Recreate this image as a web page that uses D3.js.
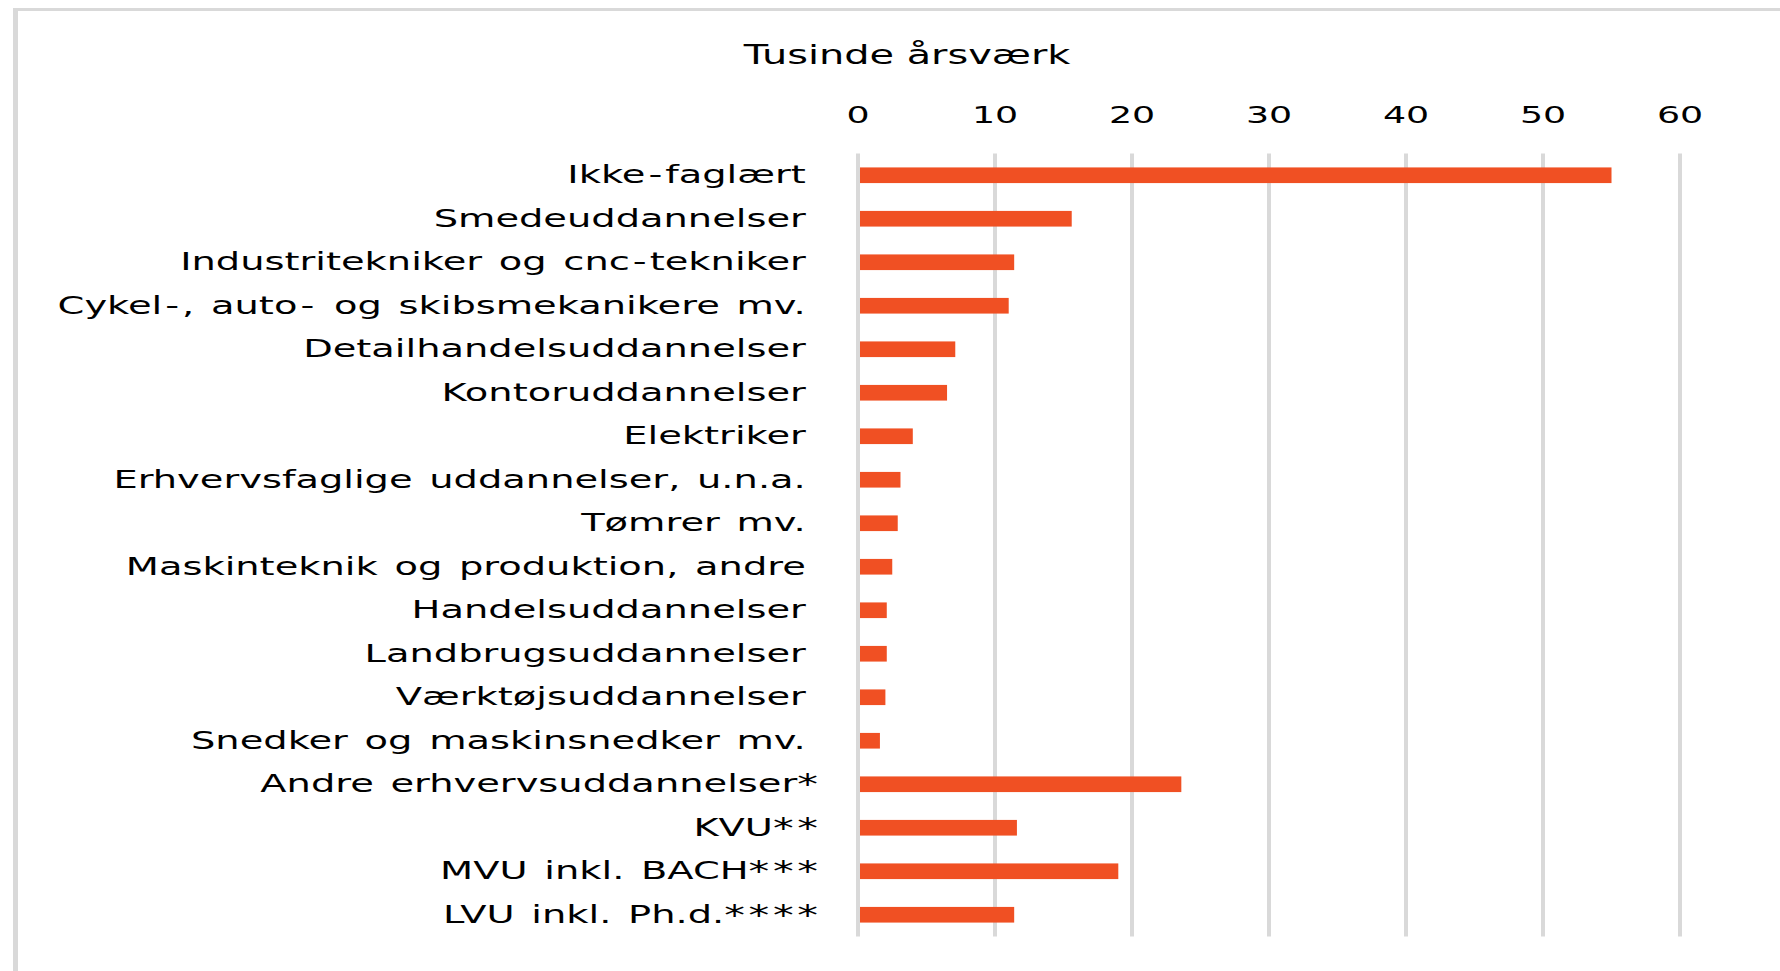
<!DOCTYPE html>
<html>
<head>
<meta charset="utf-8">
<script src="https://cdn.jsdelivr.net/npm/d3@7/dist/d3.min.js"></script>
<style>
  html, body { margin: 0; padding: 0; background: #fff; }
  svg { display: block; }
  text { font-family: "DejaVu Sans", Verdana, sans-serif; fill: #000; }
</style>
</head>
<body>
<svg id="chart" width="1780" height="971"></svg>
<script>
// ---- Data ----
const categories = [
  "Ikke-faglært",
  "Smedeuddannelser",
  "Industritekniker og cnc-tekniker",
  "Cykel-, auto- og skibsmekanikere mv.",
  "Detailhandelsuddannelser",
  "Kontoruddannelser",
  "Elektriker",
  "Erhvervsfaglige uddannelser, u.n.a.",
  "Tømrer mv.",
  "Maskinteknik og produktion, andre",
  "Handelsuddannelser",
  "Landbrugsuddannelser",
  "Værktøjsuddannelser",
  "Snedker og maskinsnedker mv.",
  "Andre erhvervsuddannelser*",
  "KVU**",
  "MVU inkl. BACH***",
  "LVU inkl. Ph.d.****"
];
const values = [55.0, 15.6, 11.4, 11.0, 7.1, 6.5, 4.0, 3.1, 2.9, 2.5, 2.1, 2.1, 2.0, 1.6, 23.6, 11.6, 19.0, 11.4];
const tickValues = [0, 10, 20, 30, 40, 50, 60];
const axisTitle = "Tusinde årsværk";

// ---- Layout ----
const svg = d3.select("#chart");
const sxLabel = 1.505;     // horizontal stretch of the reference's text
const sxTick = 1.58;
const sxTitle = 1.476;
const gridColor = "#d9d9d9";
const barColor = "#f05023";

// frame
svg.append("line").attr("x1", 15.5).attr("x2", 15.5).attr("y1", 8).attr("y2", 971)
  .attr("stroke", gridColor).attr("stroke-width", 5);
svg.append("line").attr("x1", 13).attr("x2", 1780).attr("y1", 9.5).attr("y2", 9.5)
  .attr("stroke", gridColor).attr("stroke-width", 3);

const x = d3.scaleLinear().domain([0, 60]).range([858, 1680]);
const y = d3.scaleBand().domain(categories).range([153.5, 936.5])
  .paddingInner(0.64).paddingOuter(0.32);

// gridlines
svg.append("g").selectAll("line").data(tickValues).join("line")
  .attr("x1", d => x(d)).attr("x2", d => x(d))
  .attr("y1", 153.5).attr("y2", 936.5)
  .attr("stroke", gridColor).attr("stroke-width", 4);

// tick labels
svg.append("g").selectAll("g").data(tickValues).join("g")
  .attr("transform", d => `translate(${x(d)},123) scale(${sxTick},1)`)
  .append("text")
  .attr("text-anchor", "middle")
  .style("font-size", "23px")
  .text(d => d3.format("d")(d));

// axis title
svg.append("g").attr("transform", `translate(907,64) scale(${sxTitle},1)`)
  .append("text").attr("text-anchor", "middle")
  .style("font-size", "27px")
  .text(axisTitle);

// bars
svg.append("g").selectAll("rect").data(values).join("rect")
  .attr("x", x(0) + 2)
  .attr("y", (d, i) => y(categories[i]))
  .attr("width", d => x(d) - x(0) - 2)
  .attr("height", y.bandwidth())
  .attr("fill", barColor);

// category labels
const lab = svg.append("g").selectAll("g").data(categories).join("g")
  .attr("transform", d => `translate(${d.endsWith("*") ? 821.5 : 818},${y(d) + y.bandwidth() / 2 + 7.8}) scale(${sxLabel},1)`)
  .append("text")
  .attr("text-anchor", "end")
  .style("font-size", "25.5px")
  .style("word-spacing", "3px")
  .style("white-space", "pre");
lab.each(function(d) {
  const m = d.match(/^(.*?)(\*+)$/);
  const t = d3.select(this);
  const base = m ? m[1] : d;
  base.split(/(-)/).filter(s => s.length).forEach(part => {
    const ts = t.append("tspan").text(part);
    if (part === "-") ts.attr("dx", 2).style("letter-spacing", "2px");
  });
  if (m) {
    t.append("tspan").text(m[2])
      .style("font-size", "27.5px")
      .style("letter-spacing", "2.4px")
      .attr("dy", 2);
  } else {
    t.append("tspan").text(" ").style("word-spacing", "0px");
  }
});
</script>
</body>
</html>
